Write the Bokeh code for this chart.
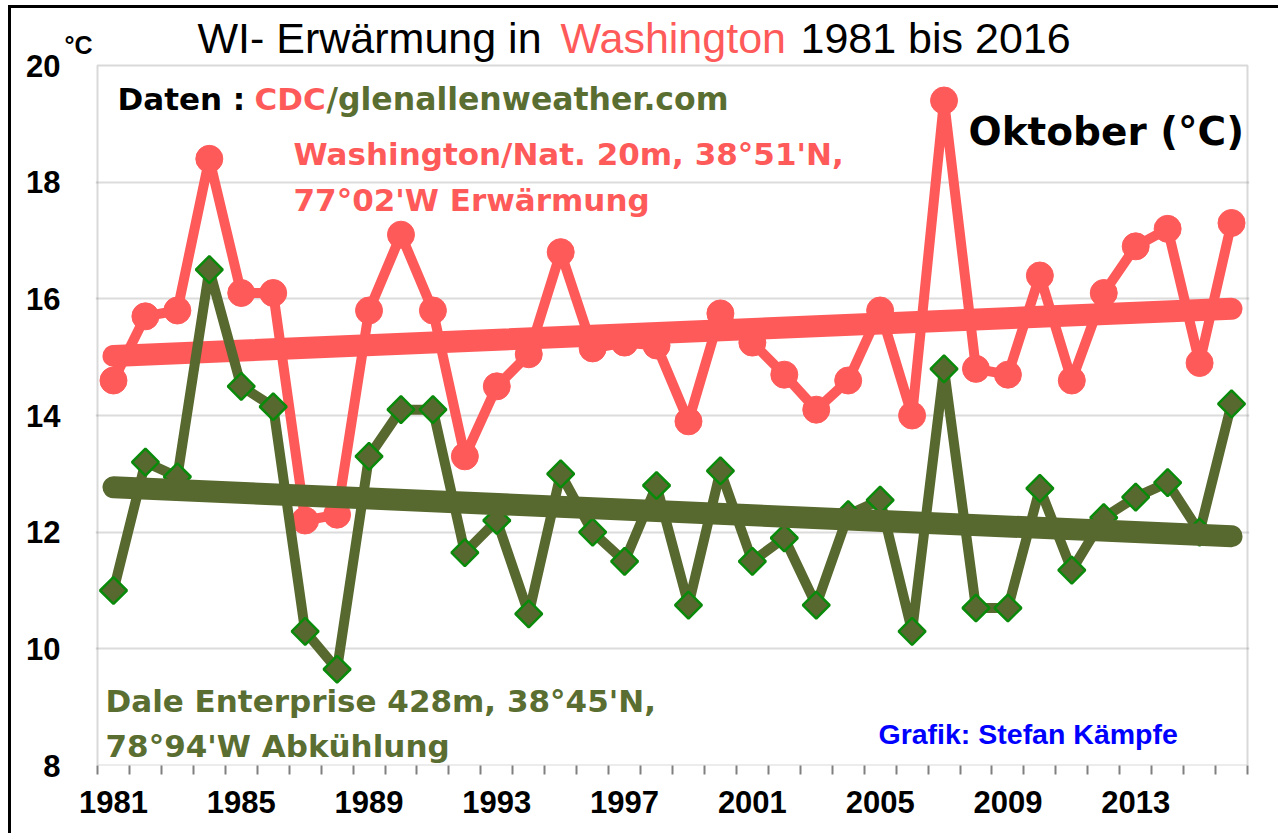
import numpy as np
from bokeh.plotting import figure
from bokeh.models import (Range1d, FixedTicker, Label, ColumnDataSource,
                          LinearAxis, BoxAnnotation)
from bokeh.embed import file_html
from bokeh.resources import INLINE

# ---------------- data ----------------
years = list(range(1981, 2017))
washington = [14.6, 15.7, 15.8, 18.4, 16.1, 16.1, 12.2, 12.3, 15.8, 17.1,
              15.8, 13.3, 14.5, 15.05, 16.8, 15.15, 15.25, 15.2, 13.9, 15.75,
              15.25, 14.7, 14.1, 14.6, 15.8, 14.0, 19.4, 14.8, 14.7, 16.4,
              14.6, 16.1, 16.9, 17.2, 14.9, 17.3]
dale = [11.0, 13.2, 12.95, 16.5, 14.5, 14.15, 10.3, 9.65, 13.3, 14.1,
        14.1, 11.65, 12.2, 10.6, 13.0, 12.0, 11.5, 12.8, 10.75, 13.05,
        11.5, 11.9, 10.75, 12.3, 12.55, 10.3, 14.8, 10.7, 10.7, 12.75,
        11.35, 12.25, 12.6, 12.85, 12.0, 14.2]
trend_years = [1981, 2016]
washington_trend = [15.02, 15.83]
dale_trend = [12.77, 11.93]
x_tick_labels = [1981, 1985, 1989, 1993, 1997, 2001, 2005, 2009, 2013]
y_ticks = [8, 10, 12, 14, 16, 18, 20]
y_min, y_max = 8, 20
x_min, x_max = 1980.5, 2016.5

RED = "#ff5a5a"
OLIVE = "#58692f"
OLIVE_TXT = "#5a6e31"
GRAY = "#808080"

# page geometry (px)
ORIG_X, ORIG_Y = 11, 8          # canvas origin on page (margin + border)
BOX_L, BOX_R, BOX_T, BOX_B = 97.0, 1247.0, 65.0, 765.0
PAD = 2.0
px_per_x = (BOX_R - BOX_L) / (x_max - x_min)
px_per_y = (BOX_B - BOX_T) / (y_max - y_min)

W, H = 1270, 828
x_range = Range1d(x_min - PAD / px_per_x, x_max + PAD / px_per_x)
y_range = Range1d(y_min, y_min + (BOX_B - ORIG_Y) / px_per_y)

p = figure(width=W, height=H, output_backend="svg", toolbar_location=None,
           x_range=x_range, y_range=y_range, y_axis_location=None,
           min_border_left=int(BOX_L - PAD - ORIG_X),
           min_border_right=int(ORIG_X + W - (BOX_R + PAD)),
           min_border_top=0,
           min_border_bottom=int(ORIG_Y + H - BOX_B))
p.background_fill_color = "white"
p.border_fill_color = "white"
p.outline_line_color = None
p.styles = {"margin-left": "8px", "margin-top": "5px",
            "border-left": "3px solid black", "border-top": "3px solid black"}

# x axis
xa = p.xaxis[0]
xa.ticker = FixedTicker(ticks=x_tick_labels,
                        minor_ticks=[y - 0.5 for y in years] + [x_max])
xa.major_tick_line_color = None
xa.major_tick_out = 0
xa.major_tick_in = 0
xa.minor_tick_out = 9
xa.minor_tick_in = 0
xa.minor_tick_line_color = GRAY
xa.minor_tick_line_width = 2
xa.axis_line_color = None
xa.major_label_text_font = "Liberation Sans"
xa.major_label_text_font_size = "31px"
xa.major_label_text_font_style = "bold"
xa.major_label_text_color = "black"
xa.major_label_standoff = 16

# unit axis (°C) nearest to plot, then numeric axis
ua = LinearAxis(ticker=FixedTicker(ticks=[20.35]),
                major_label_overrides={20.35: "°C"})
ua.axis_line_color = None
ua.major_tick_line_color = None
ua.minor_tick_line_color = None
ua.major_tick_out = 0
ua.major_tick_in = 0
ua.major_label_text_font = "Liberation Sans"
ua.major_label_text_font_size = "25px"
ua.major_label_text_font_style = "bold"
ua.major_label_text_color = "black"
ua.major_label_standoff = 3
p.add_layout(ua, "left")

ya = LinearAxis(ticker=FixedTicker(ticks=y_ticks))
ya.axis_line_color = None
ya.major_tick_line_color = None
ya.minor_tick_line_color = None
ya.major_tick_out = 0
ya.major_tick_in = 0
ya.major_label_text_font = "Liberation Sans"
ya.major_label_text_font_size = "31px"
ya.major_label_text_font_style = "bold"
ya.major_label_text_color = "black"
ya.major_label_standoff = 1
p.add_layout(ya, "left")

p.xgrid.visible = False
p.ygrid.ticker = FixedTicker(ticks=[10, 12, 14, 16, 18])
p.ygrid.grid_line_color = "#dcdcdc"
p.ygrid.grid_line_width = 2

# plot-area box
p.add_layout(BoxAnnotation(left=x_min, right=x_max, bottom=y_min, top=y_max,
                           fill_alpha=0, line_color=GRAY, line_width=2,
                           level="underlay"))

# ---------------- series ----------------
src = ColumnDataSource(dict(year=years, wash=washington, dale=dale))
tsrc = ColumnDataSource(dict(year=trend_years, wash=washington_trend, dale=dale_trend))

p.line("year", "wash", source=src, color=RED, line_width=10, line_join="round")
p.scatter("year", "wash", source=src, marker="circle", size=27,
          fill_color=RED, line_color=RED)
p.line("year", "wash", source=tsrc, color=RED, line_width=22, line_cap="round")

p.line("year", "dale", source=src, color=OLIVE, line_width=10, line_join="round")
p.scatter("year", "dale", source=src, marker="square", size=19,
          angle=np.pi / 4, fill_color=OLIVE, line_color="#0a8a0a", line_width=2.5)
p.line("year", "dale", source=tsrc, color=OLIVE, line_width=22, line_cap="round")

# ---------------- texts ----------------


def X(px):
    return x_min + (px - BOX_L) / px_per_x


def Y(py):
    return y_min + (BOX_B - py) / px_per_y


def txt(s, px, py, size, color, font="DejaVu Sans", style="bold"):
    p.add_layout(Label(x=X(px), y=Y(py), text=s, text_font=font,
                       text_font_size=size, text_font_style=style,
                       text_color=color, text_align="left",
                       text_baseline="middle"))


txt("WI- Erwärmung in", 197, 37, "43px", "black", "Liberation Sans", "normal")
txt("Washington", 560, 37, "43px", RED, "Liberation Sans", "normal")
txt("1981 bis 2016", 800, 37, "43px", "black", "Liberation Sans", "normal")

txt("Daten :", 117, 98, "31px", "black")
txt("CDC", 254, 98, "31px", RED)
txt("/glenallenweather.com", 326, 98, "31.5px", OLIVE_TXT)

txt("Washington/Nat. 20m, 38°51'N,", 293, 153, "31px", RED)
txt("77°02'W Erwärmung", 293, 199, "31px", RED)
txt("Oktober (°C)", 968, 131, "39px", "black")

txt("Dale Enterprise 428m, 38°45'N,", 105, 700, "31px", OLIVE_TXT)
txt("78°94'W  Abkühlung", 105, 745, "31px", OLIVE_TXT)
txt("Grafik: Stefan Kämpfe", 878, 733, "28.5px", "#0000ff", "Liberation Sans", "bold")

open("out.html", "w").write(file_html(p, INLINE))
